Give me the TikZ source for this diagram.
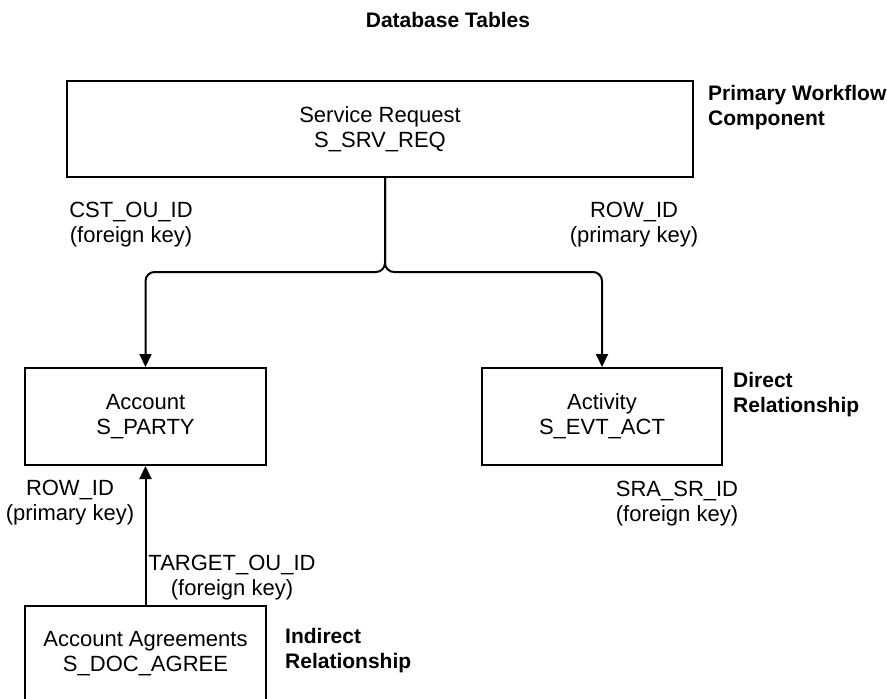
\documentclass[tikz,border=0pt]{standalone}
\usepackage{fontspec}
\setmainfont{Liberation Sans}
\usetikzlibrary{arrows.meta, positioning}

\begin{document}
\begin{tikzpicture}[
    x=1pt, y=-1pt,
    every node/.style={font=\fontsize{22}{25}\selectfont, align=center, inner sep=0pt},
    tbl/.style={rectangle, draw, line width=2pt, minimum width=241pt, minimum height=97pt},
    keylbl/.style={anchor=base},
    tag/.style={anchor=base west, align=left, font=\fontsize{21}{25}\selectfont\bfseries},
    arrow/.style={-{Triangle[length=13pt, width=12pt]}, line width=2pt, rounded corners=9pt}
]
    \useasboundingbox (0,0) rectangle (887,699);
    \clip (0,0) rectangle (887,699);

    % Title
    \node[anchor=base, font=\fontsize{21}{25}\selectfont\bfseries] (title) at (448,27) {Database Tables};

    % Tables
    \node[tbl, minimum width=626pt, minimum height=96pt] (srv) at (380,129) {Service Request\\S\_SRV\_REQ};
    \node[tbl] (acct) at (145.5,416.5) {Account\\S\_PARTY};
    \node[tbl, minimum width=240pt] (act) at (602,416.5) {Activity\\S\_EVT\_ACT};
    \node[tbl, minimum height=96pt] (agree) at (145.5,654) {Account Agreements\\S\_DOC\_AGREE};

    % Side tags (base = last line)
    \node[tag] (primary) at (708,125) {Primary Workflow\\Component};
    \node[tag] (direct) at (733,412) {Direct\\Relationship};
    \node[tag] (indirect) at (285,668) {Indirect\\Relationship};

    % Key labels
    \node[keylbl] (cst) at (131,242) {CST\_OU\_ID\\(foreign key)};
    \node[keylbl] (rowsrv) at (634,242) {ROW\_ID\\(primary key)};
    \node[keylbl] (rowacct) at (70,520) {ROW\_ID\\(primary key)};
    \node[keylbl] (target) at (232,595) {TARGET\_OU\_ID\\(foreign key)};
    \node[keylbl] (sra) at (677,521) {SRA\_SR\_ID\\(foreign key)};

    % Connectors
    \coordinate (split) at ([xshift=5pt]srv.south);
    \coordinate (fork) at (385,272);
    \draw[arrow] (split) -- (fork) -| (acct.north);
    \draw[arrow] (split) -- (fork) -| (act.north);
    \draw[arrow] (agree.north) -- (acct.south);

\end{tikzpicture}
\end{document}
